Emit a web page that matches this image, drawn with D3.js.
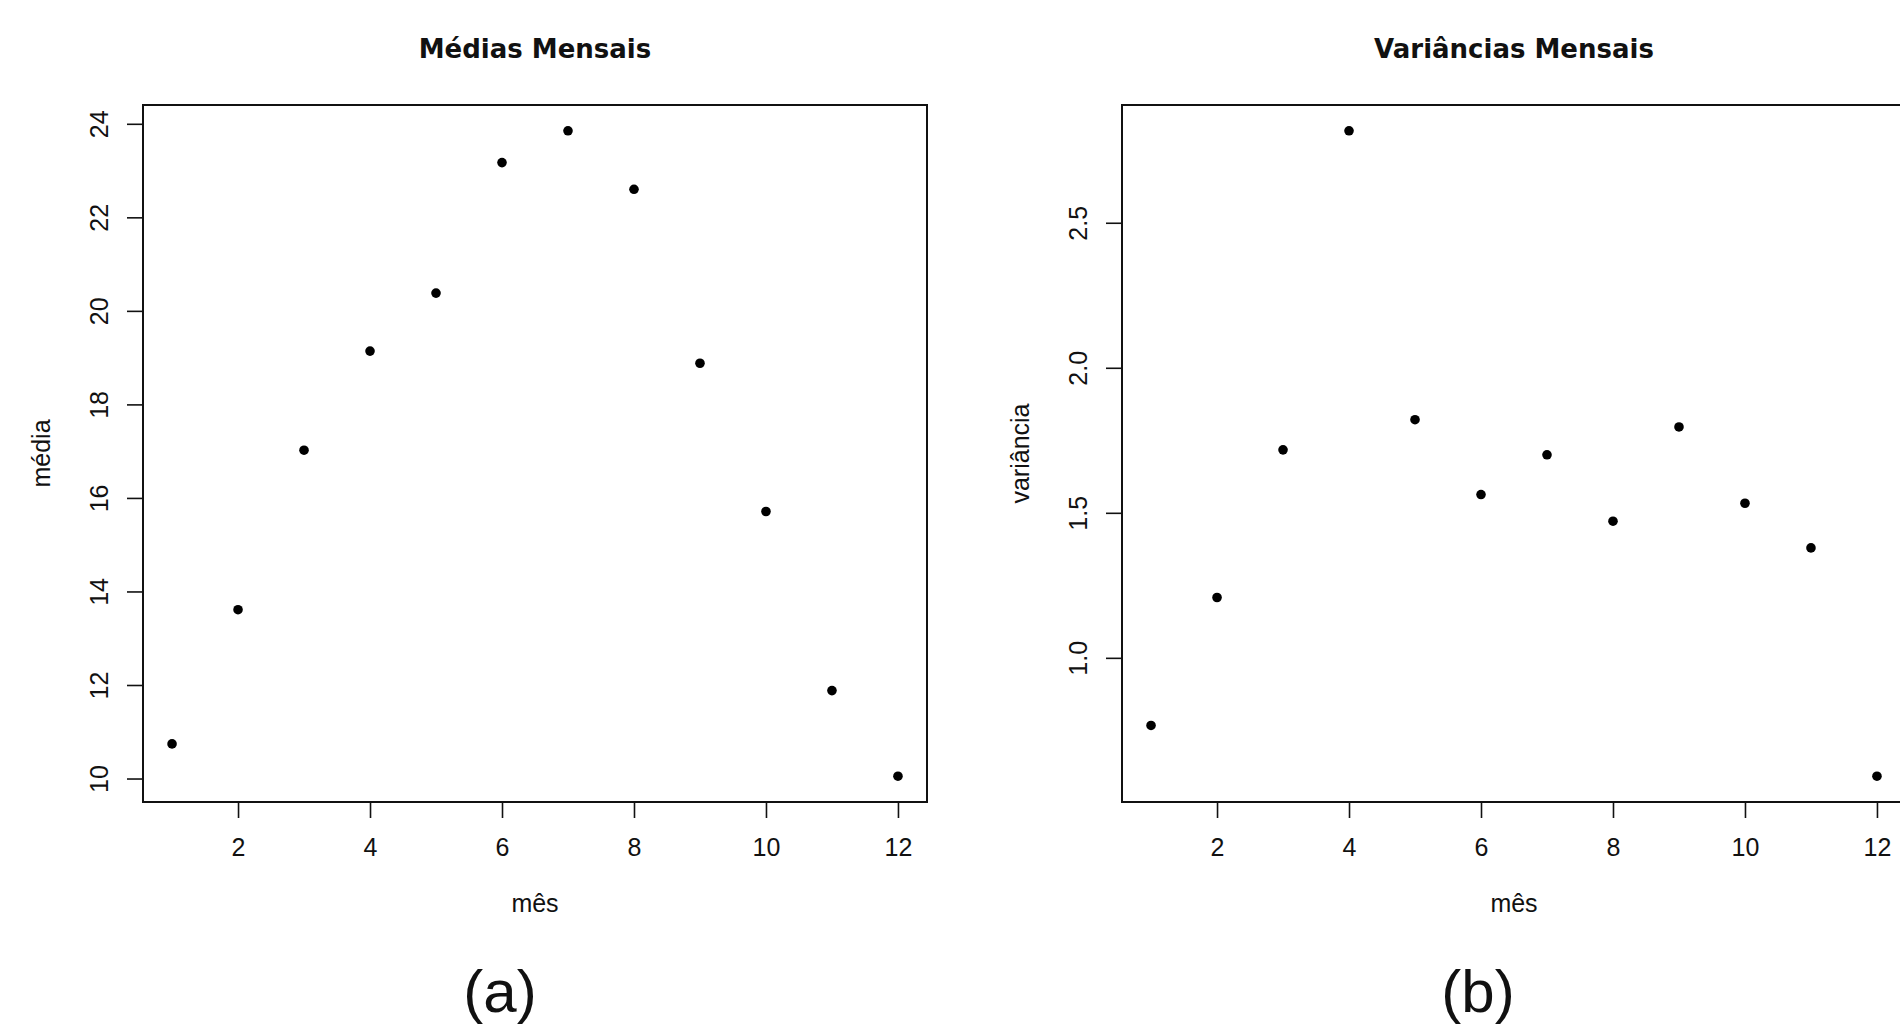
<!DOCTYPE html>
<html>
<head>
<meta charset="utf-8">
<script src="https://cdn.jsdelivr.net/npm/d3@7"></script>
<style>
  body { margin: 0; background: #fff; }
  svg text { font-family: "Liberation Sans", Arial, sans-serif; fill: #111; }
  svg text.main { font-family: "DejaVu Sans", Verdana, sans-serif; font-weight: bold; }
</style>
</head>
<body>
<div id="chart"></div>
<script>
const meses = [1, 2, 3, 4, 5, 6, 7, 8, 9, 10, 11, 12];
const medias = [10.74, 13.61, 17.02, 19.14, 20.38, 23.17, 23.85, 22.60, 18.88, 15.71, 11.88, 10.05];
const variancias = [0.767, 1.208, 1.717, 2.817, 1.821, 1.563, 1.700, 1.471, 1.796, 1.533, 1.379, 0.592];
const xTicks = [2, 4, 6, 8, 10, 12];
const yTicksMedia = [10, 12, 14, 16, 18, 20, 22, 24];
const yTicksVar = [1.0, 1.5, 2.0, 2.5];

const width = 1900, height = 1033;

const svg = d3.select("#chart")
  .append("svg")
  .attr("width", width)
  .attr("height", height);

// R style: 4% padding on both ends
function padded(vals) {
  const [lo, hi] = d3.extent(vals);
  const p = (hi - lo) * 0.04;
  return [lo - p, hi + p];
}

const panels = [
  { left: 143, right: 927, title: "Médias Mensais", ylab: "média", values: medias,
    yTicks: yTicksMedia, fmt: d3.format("d"), tag: "(a)", tagX: 500 },
  { left: 1122, right: 1906, title: "Variâncias Mensais", ylab: "variância", values: variancias,
    yTicks: yTicksVar, fmt: d3.format(".1f"), tag: "(b)", tagX: 1478 }
];

const plotTop = 105, plotBottom = 802;
const tick = 16;
const labelSize = 25;

panels.forEach(p => {
  const x = d3.scaleLinear().domain(padded(meses)).range([p.left, p.right]);
  const y = d3.scaleLinear().domain(padded(p.values)).range([plotBottom, plotTop]);
  const cx = (p.left + p.right) / 2;

  const g = svg.append("g");

  // x axis
  const xAxis = g.append("g")
    .attr("transform", `translate(0,${plotBottom})`)
    .call(d3.axisBottom(x).tickValues(xTicks).tickSize(tick).tickPadding(20).tickFormat(d3.format("d")));
  xAxis.select(".domain").remove();
  xAxis.selectAll("line").attr("stroke", "#111").attr("stroke-width", 1.6);
  xAxis.selectAll("text").attr("font-size", labelSize).attr("fill", "#111");

  // y axis, rotated labels like R
  const yAxis = g.append("g")
    .attr("transform", `translate(${p.left},0)`)
    .call(d3.axisLeft(y).tickValues(p.yTicks).tickSize(tick).tickFormat(p.fmt));
  yAxis.select(".domain").remove();
  yAxis.selectAll("line").attr("stroke", "#111").attr("stroke-width", 1.6);
  yAxis.selectAll("text")
    .attr("x", null).attr("dy", null)
    .attr("text-anchor", "middle")
    .attr("dominant-baseline", "central")
    .attr("transform", "translate(-44,0) rotate(-90)")
    .attr("font-size", labelSize).attr("fill", "#111");

  // box
  g.append("rect")
    .attr("x", p.left).attr("y", plotTop)
    .attr("width", p.right - p.left).attr("height", plotBottom - plotTop)
    .attr("fill", "none").attr("stroke", "#111").attr("stroke-width", 2);

  // points
  g.append("g").selectAll("circle")
    .data(meses)
    .join("circle")
      .attr("cx", d => x(d))
      .attr("cy", (d, i) => y(p.values[i]))
      .attr("r", 4.8)
      .attr("fill", "#000");

  // titles
  g.append("text")
    .attr("class", "main")
    .attr("x", cx).attr("y", 58)
    .attr("text-anchor", "middle")
    .attr("font-size", 26)
    .text(p.title);

  g.append("text")
    .attr("x", cx).attr("y", 912)
    .attr("text-anchor", "middle")
    .attr("font-size", labelSize)
    .text("mês");

  g.append("text")
    .attr("transform", `translate(${p.left - 102},${(plotTop + plotBottom) / 2}) rotate(-90)`)
    .attr("text-anchor", "middle")
    .attr("dominant-baseline", "central")
    .attr("font-size", labelSize)
    .text(p.ylab);

  g.append("text")
    .attr("x", p.tagX).attr("y", 1012)
    .attr("text-anchor", "middle")
    .attr("font-size", 60)
    .text(p.tag);
});
</script>
</body>
</html>
